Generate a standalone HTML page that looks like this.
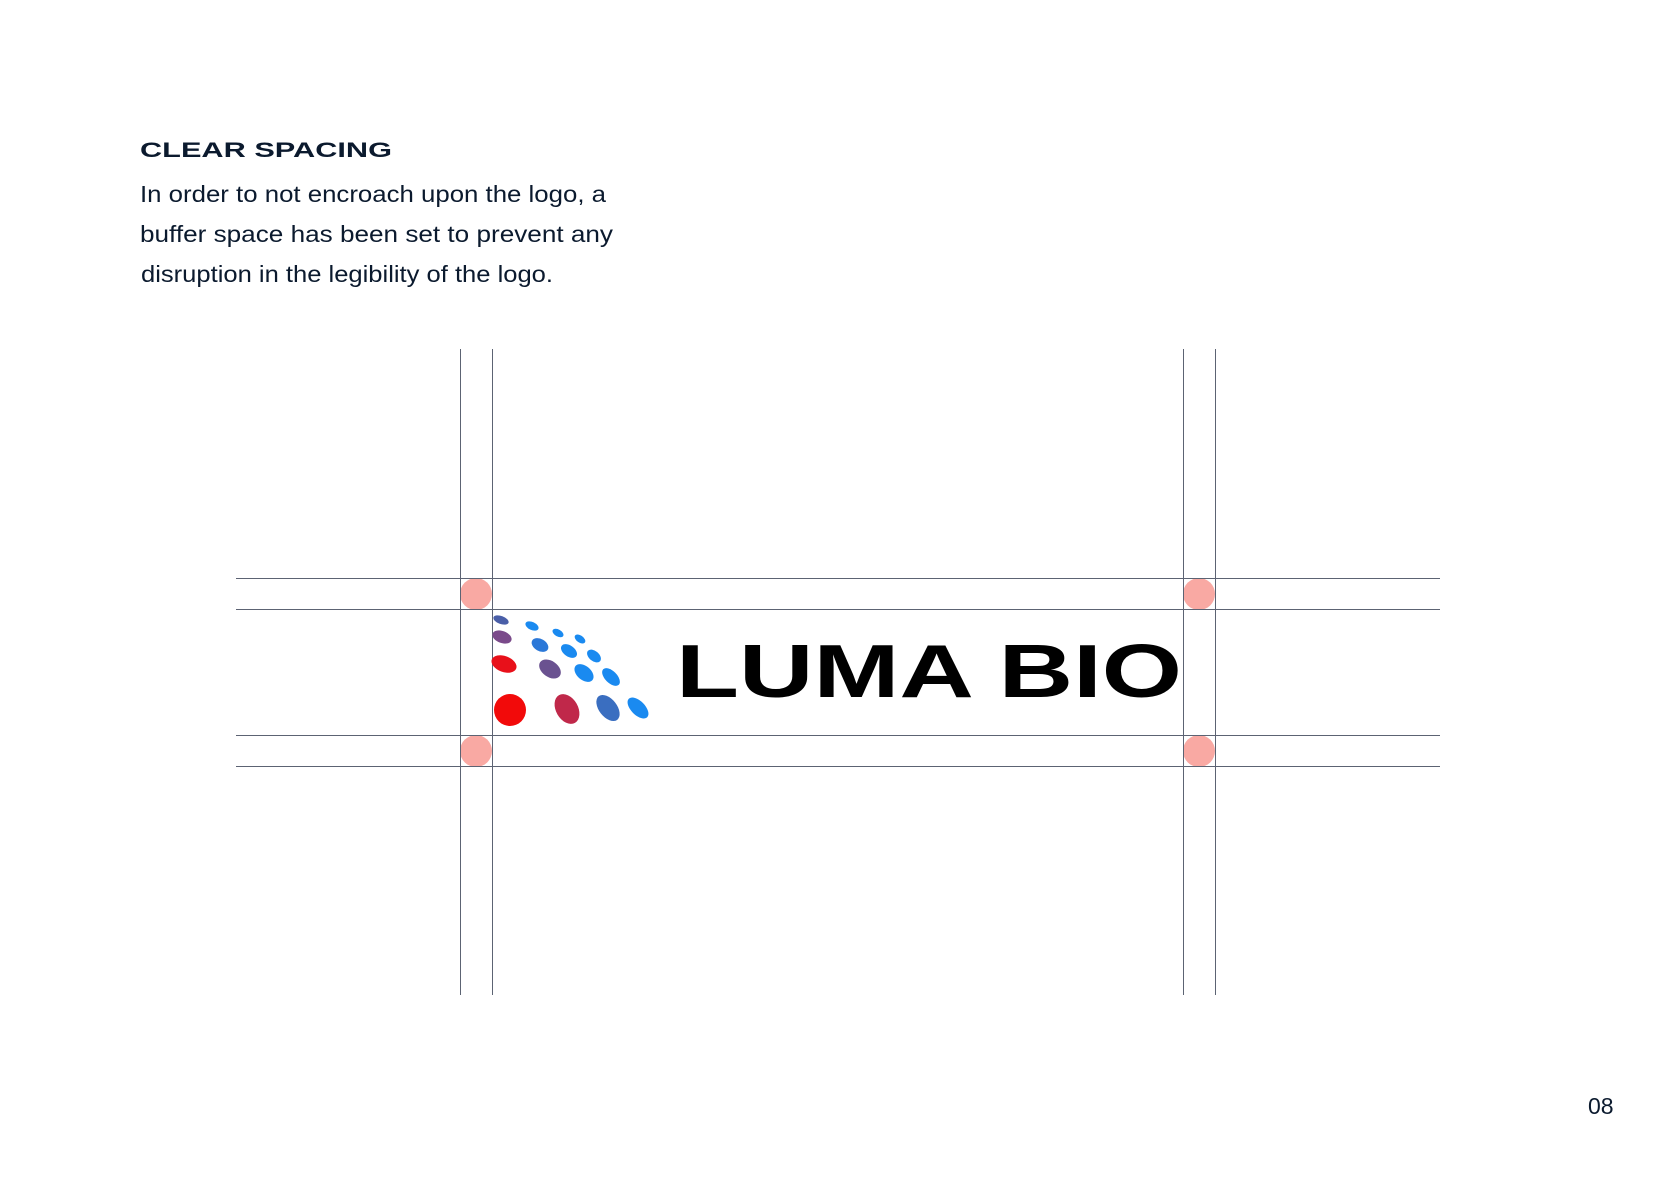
<!DOCTYPE html>
<html><head><meta charset="utf-8"><style>
html,body{margin:0;padding:0;background:#fff;}
svg{display:block;}
</style></head><body>
<svg width="1672" height="1178" viewBox="0 0 1672 1178" xmlns="http://www.w3.org/2000/svg">
<rect width="1672" height="1178" fill="#fff"/>
<text x="140" y="157" font-family="Liberation Sans, sans-serif" font-weight="700" font-size="21" fill="#0b1a2e" textLength="252" lengthAdjust="spacingAndGlyphs">CLEAR SPACING</text>
<g font-family="Liberation Sans, sans-serif" font-size="23" fill="#0b1a2e">
<text x="140" y="202" textLength="466" lengthAdjust="spacingAndGlyphs">In order to not encroach upon the logo, a</text>
<text x="140" y="242" textLength="473" lengthAdjust="spacingAndGlyphs">buffer space has been set to prevent any</text>
<text x="141" y="282" textLength="412" lengthAdjust="spacingAndGlyphs">disruption in the legibility of the logo.</text>
</g>
<text x="1588" y="1114" font-family="Liberation Sans, sans-serif" font-size="23" fill="#0b1a2e">08</text>
<g fill="#f9a9a3">
<circle cx="476" cy="594" r="16"/><circle cx="1199" cy="594" r="16"/>
<circle cx="476" cy="751" r="16"/><circle cx="1199" cy="751" r="16"/>
</g>
<g stroke="#5c6373" stroke-width="1">
<line x1="460.5" y1="349" x2="460.5" y2="995"/>
<line x1="492.5" y1="349" x2="492.5" y2="995"/>
<line x1="1183.5" y1="349" x2="1183.5" y2="995"/>
<line x1="1215.5" y1="349" x2="1215.5" y2="995"/>
<line x1="236" y1="578.5" x2="1440" y2="578.5"/>
<line x1="236" y1="609.5" x2="1440" y2="609.5"/>
<line x1="236" y1="735.5" x2="1440" y2="735.5"/>
<line x1="236" y1="766.5" x2="1440" y2="766.5"/>
</g>
<g transform="translate(-2,-3)">
<ellipse cx="503" cy="623" rx="8" ry="4" transform="rotate(20 503 623)" fill="#4a5fa8"/>
<ellipse cx="534" cy="629" rx="7" ry="4" transform="rotate(25 534 629)" fill="#1a8af0"/>
<ellipse cx="560" cy="636" rx="6" ry="3.5" transform="rotate(30 560 636)" fill="#1a8af0"/>
<ellipse cx="582" cy="642" rx="6" ry="3.5" transform="rotate(35 582 642)" fill="#1a8af0"/>
<ellipse cx="504" cy="640" rx="10" ry="6" transform="rotate(20 504 640)" fill="#7a4a8a"/>
<ellipse cx="542" cy="648" rx="9" ry="6" transform="rotate(30 542 648)" fill="#2b78d8"/>
<ellipse cx="571" cy="654" rx="9" ry="5.5" transform="rotate(35 571 654)" fill="#1a8af0"/>
<ellipse cx="596" cy="659" rx="8" ry="5" transform="rotate(40 596 659)" fill="#1a8af0"/>
<ellipse cx="506" cy="667" rx="13" ry="8" transform="rotate(20 506 667)" fill="#e8101a"/>
<ellipse cx="552" cy="672" rx="12" ry="8" transform="rotate(35 552 672)" fill="#6a5290"/>
<ellipse cx="586" cy="676" rx="11" ry="7" transform="rotate(40 586 676)" fill="#1a8af0"/>
<ellipse cx="613" cy="680" rx="11" ry="6" transform="rotate(45 613 680)" fill="#1a8af0"/>
<circle cx="512" cy="713" r="16" fill="#f20a0a"/>
<ellipse cx="569" cy="712" rx="11" ry="16" transform="rotate(-30 569 712)" fill="#c0284a"/>
<ellipse cx="610" cy="711" rx="9" ry="15" transform="rotate(-38 610 711)" fill="#3a6ec0"/>
<ellipse cx="640" cy="711" rx="7" ry="13" transform="rotate(-45 640 711)" fill="#1a8af0"/>
</g>
<text x="676" y="697" font-family="Liberation Sans, sans-serif" font-weight="700" font-size="75" fill="#000" textLength="506" lengthAdjust="spacingAndGlyphs">LUMA BIO</text>
</svg>
</body></html>
